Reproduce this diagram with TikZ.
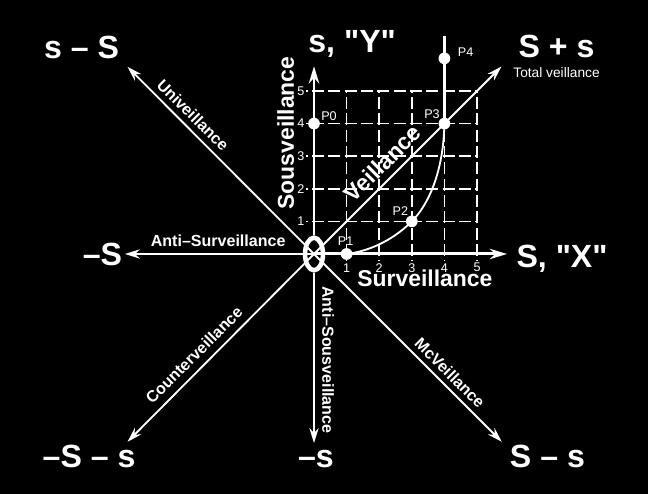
\documentclass[tikz,border=0pt]{standalone}
\usepackage{fontspec}
\setmainfont{Liberation Sans}
\usetikzlibrary{arrows.meta,positioning,shapes.geometric}
\tikzset{
  corner/.style = {text=white, font=\fontsize{28}{30}\selectfont\bfseries, inner sep=0pt, anchor=base},
  axislbl/.style = {text=white, font=\fontsize{20}{22}\selectfont\bfseries, inner sep=0pt},
  dirlbl/.style = {text=white, font=\fontsize{14}{16}\selectfont\bfseries, inner sep=0pt},
  ptlbl/.style = {text=white, font=\fontsize{11}{12}\selectfont, inner sep=0pt},
  gl/.style = {white, line width=1.3pt, dash pattern=on 10.5pt off 3.73pt},
  dot/.style = {circle, fill=white, minimum size=0.36cm, inner sep=0pt},
  arrow/.style = {white, line width=1.6pt, -{Stealth[length=13pt,width=8pt]}},
  axis/.style = {white, line width=2.6pt, -{Stealth[length=15pt,width=9pt]}}
}
\begin{document}
\begin{tikzpicture}
  \fill[black] (-9.632,-7.362) rectangle (10.245,7.791);
  \coordinate (o) at (0,0);
  \coordinate (xend) at (5.92,0);
  \coordinate (yend) at (0,5.76);
  \coordinate (wend) at (-5.8,0);
  \coordinate (send) at (0,-5.8);
  \coordinate (neend) at (5.75,5.75);
  \coordinate (nwend) at (-5.72,5.74);
  \coordinate (swend) at (-5.72,-5.76);
  \coordinate (seend) at (5.76,-5.76);

  % dashed grid and ticks
  \foreach \i in {1,...,5} {
    \draw[gl, dash phase=8.81pt] (-0.25,\i) -- (5.03,\i);
    \draw[gl, dash phase=10.23pt] (\i,-0.2) -- (\i,5.03);
    \node[ptlbl] (ty\i) at (-0.4,\i) {\i};
    \node[ptlbl] (tx\i) at (\i,-0.42) {\i};
  }

  \node[draw=white, fill=black, line width=4pt, ellipse,
        minimum width=0.55cm, minimum height=1.0cm] (eye) at (o) {};

  \draw[axis] (eye.north) -- (yend);
  \draw[axis] (o) -- (xend);
  \draw[arrow, line width=2pt] (o) -- (wend);
  \draw[arrow, line width=2pt] (eye.south) -- (send);
  \draw[arrow] (o) -- (neend);
  \draw[arrow] (o) -- (nwend);
  \draw[arrow] (o) -- (swend);
  \draw[arrow] (o) -- (seend);

  % the path P1 .. P4
  \node[dot] (p0) at (0,4) {};
  \node[dot] (p1) at (1,0) {};
  \node[dot] (p2) at (3,1) {};
  \node[dot] (p3) at (4,4) {};
  \node[dot] (p4) at (4,6) {};
  \coordinate (ptop) at (4,6.7);
  \draw[white, line width=1.6pt] (p1.center) .. controls (1.8,0.1) and (2.5,0.5) .. (p2.center)
    .. controls (3.5,1.5) and (3.97,2.5) .. (p3.center);
  \draw[white, line width=2.4pt] (p3.center) -- (ptop);
  \node[ptlbl] (l0) at (0.46,4.23) {P0};
  \node[ptlbl] (l1) at (0.97,0.4) {P1};
  \node[ptlbl] (l2) at (2.65,1.32) {P2};
  \node[ptlbl] (l3) at (3.62,4.3) {P3};
  \node[ptlbl] (l4) at (4.65,6.2) {P4};

  % axis names
  \node[axislbl, rotate=90] (sous) at (-0.87,3.71) {Sousveillance};
  \node[axislbl] (surv) at (3.40,-0.75) {Surveillance};
  \node[axislbl, rotate=45] (veil) at (2.10,2.78) {Veillance};

  % directions
  \node[dirlbl, rotate=-45] (univ) at (-3.71,4.26) {Univeillance};
  \node[dirlbl] (antisurv) at (-2.94,0.40) {Anti--Surveillance};
  \node[dirlbl, rotate=45] (counter) at (-3.68,-3.10) {Counterveillance};
  \node[dirlbl, rotate=-90] (antisous) at (0.43,-3.25) {Anti--Sousveillance};
  \node[dirlbl, rotate=-45] (mcv) at (4.17,-3.65) {McVeillance};

  % corners
  \node[corner] (sms) at (-7.13,6.01) {s -- S};
  \node[corner] (ylbl) at (1.17,6.17) {s, \textquotedbl Y\textquotedbl};
  \node[corner] (sps) at (7.44,6.04) {S + s};
  \node[ptlbl, font=\fontsize{12}{13}\selectfont, below=0.3cm of sps.base] (tot) {Total veillance};
  \node[corner] (wlbl) at (-6.49,-0.34) {--S};
  \node[corner] (xlbl) at (7.61,-0.40) {S, \textquotedbl X\textquotedbl};
  \node[corner] (smsms) at (-6.9,-6.56) {--S -- s};
  \node[corner] (ms) at (0.06,-6.56) {--s};
  \node[corner] (sms2) at (7.16,-6.56) {S -- s};
\end{tikzpicture}
\end{document}
